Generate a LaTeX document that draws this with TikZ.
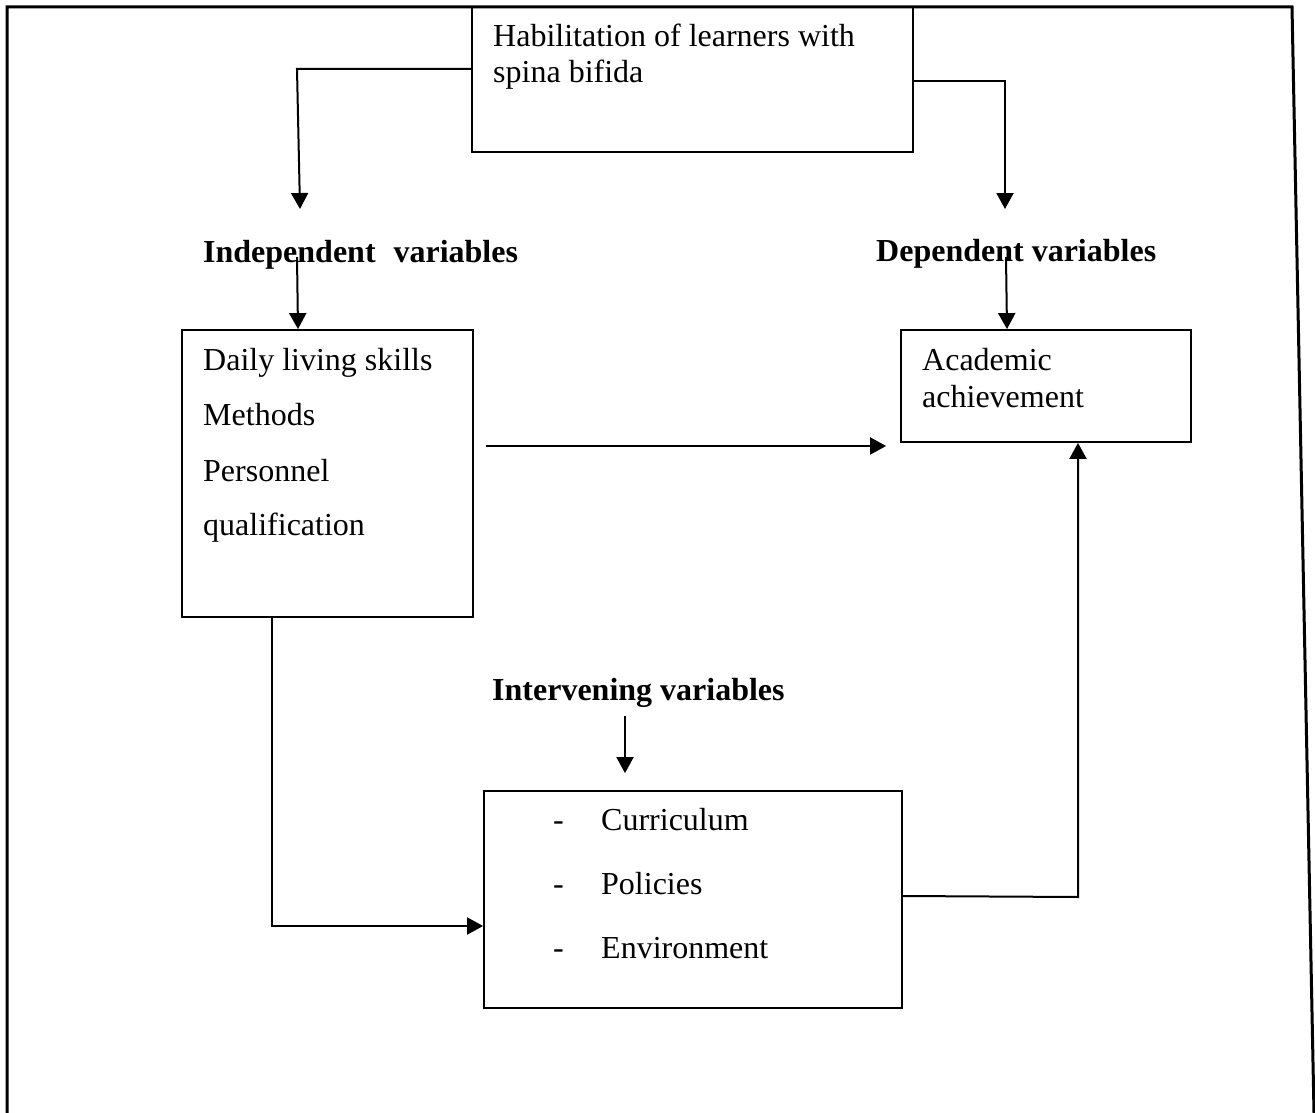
\documentclass[tikz,border=0pt]{standalone}
\usepackage{fontspec}
\setmainfont{Liberation Serif}
\usetikzlibrary{arrows.meta,calc}
\begin{document}
\begin{tikzpicture}[x=1pt,y=-1pt,
  box/.style={draw,line width=1.8pt,rectangle,inner sep=0pt},
  txt/.style={anchor=base west,inner sep=0pt,font=\fontsize{32}{38}\selectfont},
  btxt/.style={anchor=base west,inner sep=0pt,font=\fontsize{32}{38}\selectfont\bfseries},
  conn/.style={line width=2pt},
  arr/.style={line width=2pt,-{Triangle[width=17pt,length=16pt]}}
]
\useasboundingbox (0,0) rectangle (1315,1113);
% outer frame (open at bottom)
\draw[line width=3pt,line join=miter] (7,1113) -- (7,7) -- (1292,7) -- (1314,1113);

% boxes
\node[box,minimum width=441pt,minimum height=145pt] (top) at (692.5,79.5) {};
\node[box,minimum width=291pt,minimum height=287pt] (ind) at (327.5,473.5) {};
\node[box,minimum width=290pt,minimum height=112pt] (dep) at (1046,386) {};
\node[box,minimum width=418pt,minimum height=217pt] (intv) at (693,899.5) {};

% texts
\node[txt] (t1) at (493,47) {Habilitation of learners with};
\node[txt] (t2) at (493,83) {spina bifida};

\node[btxt] (indlab) at (203,262) {Independent\hspace{0.56em}variables};
\node[btxt] (deplab) at (876,261) {Dependent variables};
\node[btxt] (intlab) at (492,700) {Intervening variables};

\node[txt] (i1) at (203,370) {Daily living skills};
\node[txt] (i2) at (203,425) {Methods};
\node[txt] (i3) at (203,481) {Personnel};
\node[txt] (i4) at (203,535) {qualification};

\node[txt] (d1) at (922,370) {Academic};
\node[txt] (d2) at (922,407) {achievement};

\node[txt] (m1) at (553,830) {-};
\node[txt] (m2) at (553,894) {-};
\node[txt] (m3) at (553,958) {-};
\node[txt] (c1) at (601,830) {Curriculum};
\node[txt] (c2) at (601,894) {Policies};
\node[txt] (c3) at (601,958) {Environment};

% free ends
\coordinate (a1) at (300,209);
\coordinate (a2) at (1005,209);
\coordinate (s3) at (297,257);
\coordinate (s4) at (1006,257);
\coordinate (s6) at (625,716);

% connectors
\draw[arr] (top.west |- 0,69) -- (297,69) -- (a1);
\draw[arr] (top.east |- 0,81) -- (1005,81) -- (a2);
\draw[arr] (s3) -- (ind.north -| 298,0);
\draw[arr] (s4) -- (dep.north -| 1007,0);
\draw[arr,shorten <=12pt,shorten >=14pt] (ind.east |- 0,446) -- (dep.west |- 0,446);
\draw[arr,shorten >=17pt] (s6) -- (intv.north -| 625,0);
\draw[arr] (ind.south -| 272,0) -- (272,926) -- (intv.west |- 0,926);
\draw[arr] (intv.east |- 0,896) -- (1078,897) -- (dep.south -| 1078,0);
\end{tikzpicture}
\end{document}
